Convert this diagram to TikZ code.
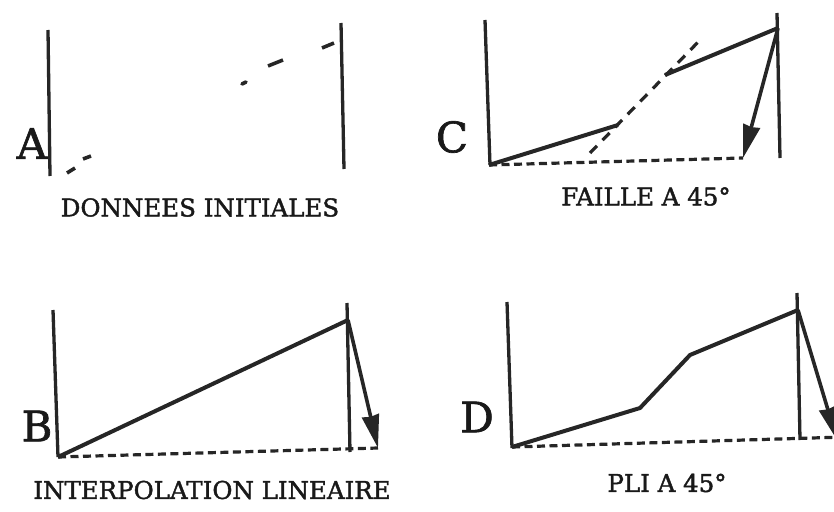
\documentclass[tikz,border=0pt]{standalone}
\usepackage{fontspec}
\setmainfont{DejaVu Serif}[FakeBold=1.6]
\usetikzlibrary{arrows.meta}

\begin{document}
\begin{tikzpicture}[
  x=1pt,y=-1pt,
  >={Stealth[length=33pt,width=17pt,inset=1pt]},
  wall/.style={line width=3.3pt,black!85},
  horizon/.style={line width=4pt,black!85,line join=round},
  datadash/.style={line width=3.6pt,black!85},
  base/.style={line width=3.2pt,black!85,dash pattern=on 8pt off 4.5pt},
  fault/.style={line width=3.2pt,black!85,dash pattern=on 10pt off 8pt},
  slip/.style={->,line width=3.6pt,black!85},
  panel/.style={font=\fontsize{42}{42}\selectfont,inner sep=0pt,black!90},
  caption/.style={font=\fontsize{24.5}{28}\selectfont,inner sep=0pt,black!90}
]
\useasboundingbox (0,0) rectangle (834,511);
\clip (0,0) rectangle (834,511);

% A : initial data, two walls and scattered dips
\coordinate (aL1) at (48,30);   \coordinate (aL2) at (50,176);
\coordinate (aR1) at (341,23);  \coordinate (aR2) at (344,169);
\draw[wall] (aL1) -- (aL2);
\draw[wall] (aR1) -- (aR2);
\draw[datadash] (67,173) -- (75,168);
\draw[datadash] (83,159) -- (91,156);
\draw[datadash,line cap=round] (242,84) -- (246,82);
\draw[datadash] (268,66) -- (283,60);
\draw[datadash] (322,48) -- (334,43);
\node[panel] (labA) at (32,143.5) {A};
\node[caption] (capA) at (200,207.5) {DONNEES INITIALES};

% B : linear interpolation
\coordinate (bL1) at (53,310);  \coordinate (bL2) at (58,457);
\coordinate (bR1) at (347,303); \coordinate (bR2) at (350,452);
\coordinate (b0) at (58,457);
\coordinate (b1) at (348,320);
\coordinate (bTip) at (378,448);
\draw[base] (b0) -- (bTip);
\draw[wall] (bL1) -- (bL2);
\draw[wall] (bR1) -- (bR2);
\draw[horizon] (b0) -- (b1);
\draw[slip] (b1) -- (bTip);
\node[panel] (labB) at (37,426) {B};
\node[caption] (capB) at (212,490) {INTERPOLATION LINEAIRE};

% C : fault at 45 deg
\coordinate (cL1) at (485,20);  \coordinate (cL2) at (490,165);
\coordinate (cR1) at (777,13);  \coordinate (cR2) at (780,158);
\coordinate (c0) at (489,165);
\coordinate (c1) at (618,125);
\coordinate (c2) at (665,75);
\coordinate (c3) at (778,28);
\coordinate (cTip) at (743,158);
\coordinate (f1) at (590,153);
\coordinate (f2) at (703,37);
\draw[base] (c0) -- (cTip);
\draw[fault] (f1) -- (f2);
\draw[wall] (cL1) -- (cL2);
\draw[wall] (cR1) -- (cR2);
\draw[horizon] (c0) -- (c1);
\draw[horizon] (c2) -- (c3);
\draw[slip] (c3) -- (cTip);
\node[panel] (labC) at (452,137) {C};
\node[caption] (capC) at (646,196.5) {FAILLE A 45°};

% D : fold at 45 deg
\coordinate (dL1) at (507,302); \coordinate (dL2) at (512,448);
\coordinate (dR1) at (797,293); \coordinate (dR2) at (800,440);
\coordinate (d0) at (512,447);
\coordinate (d1) at (640,408);
\coordinate (d2) at (690,355);
\coordinate (d3) at (798,310);
\coordinate (dTip) at (837,440);
\coordinate (dEnd) at (845,437);
\draw[base] (d0) -- (dEnd);
\draw[wall] (dL1) -- (dL2);
\draw[wall] (dR1) -- (dR2);
\draw[horizon] (d0) -- (d1) -- (d2) -- (d3);
\draw[slip] (d3) -- (dTip);
\node[panel] (labD) at (477,417) {D};
\node[caption] (capD) at (667,483) {PLI A 45°};

\end{tikzpicture}
\end{document}
